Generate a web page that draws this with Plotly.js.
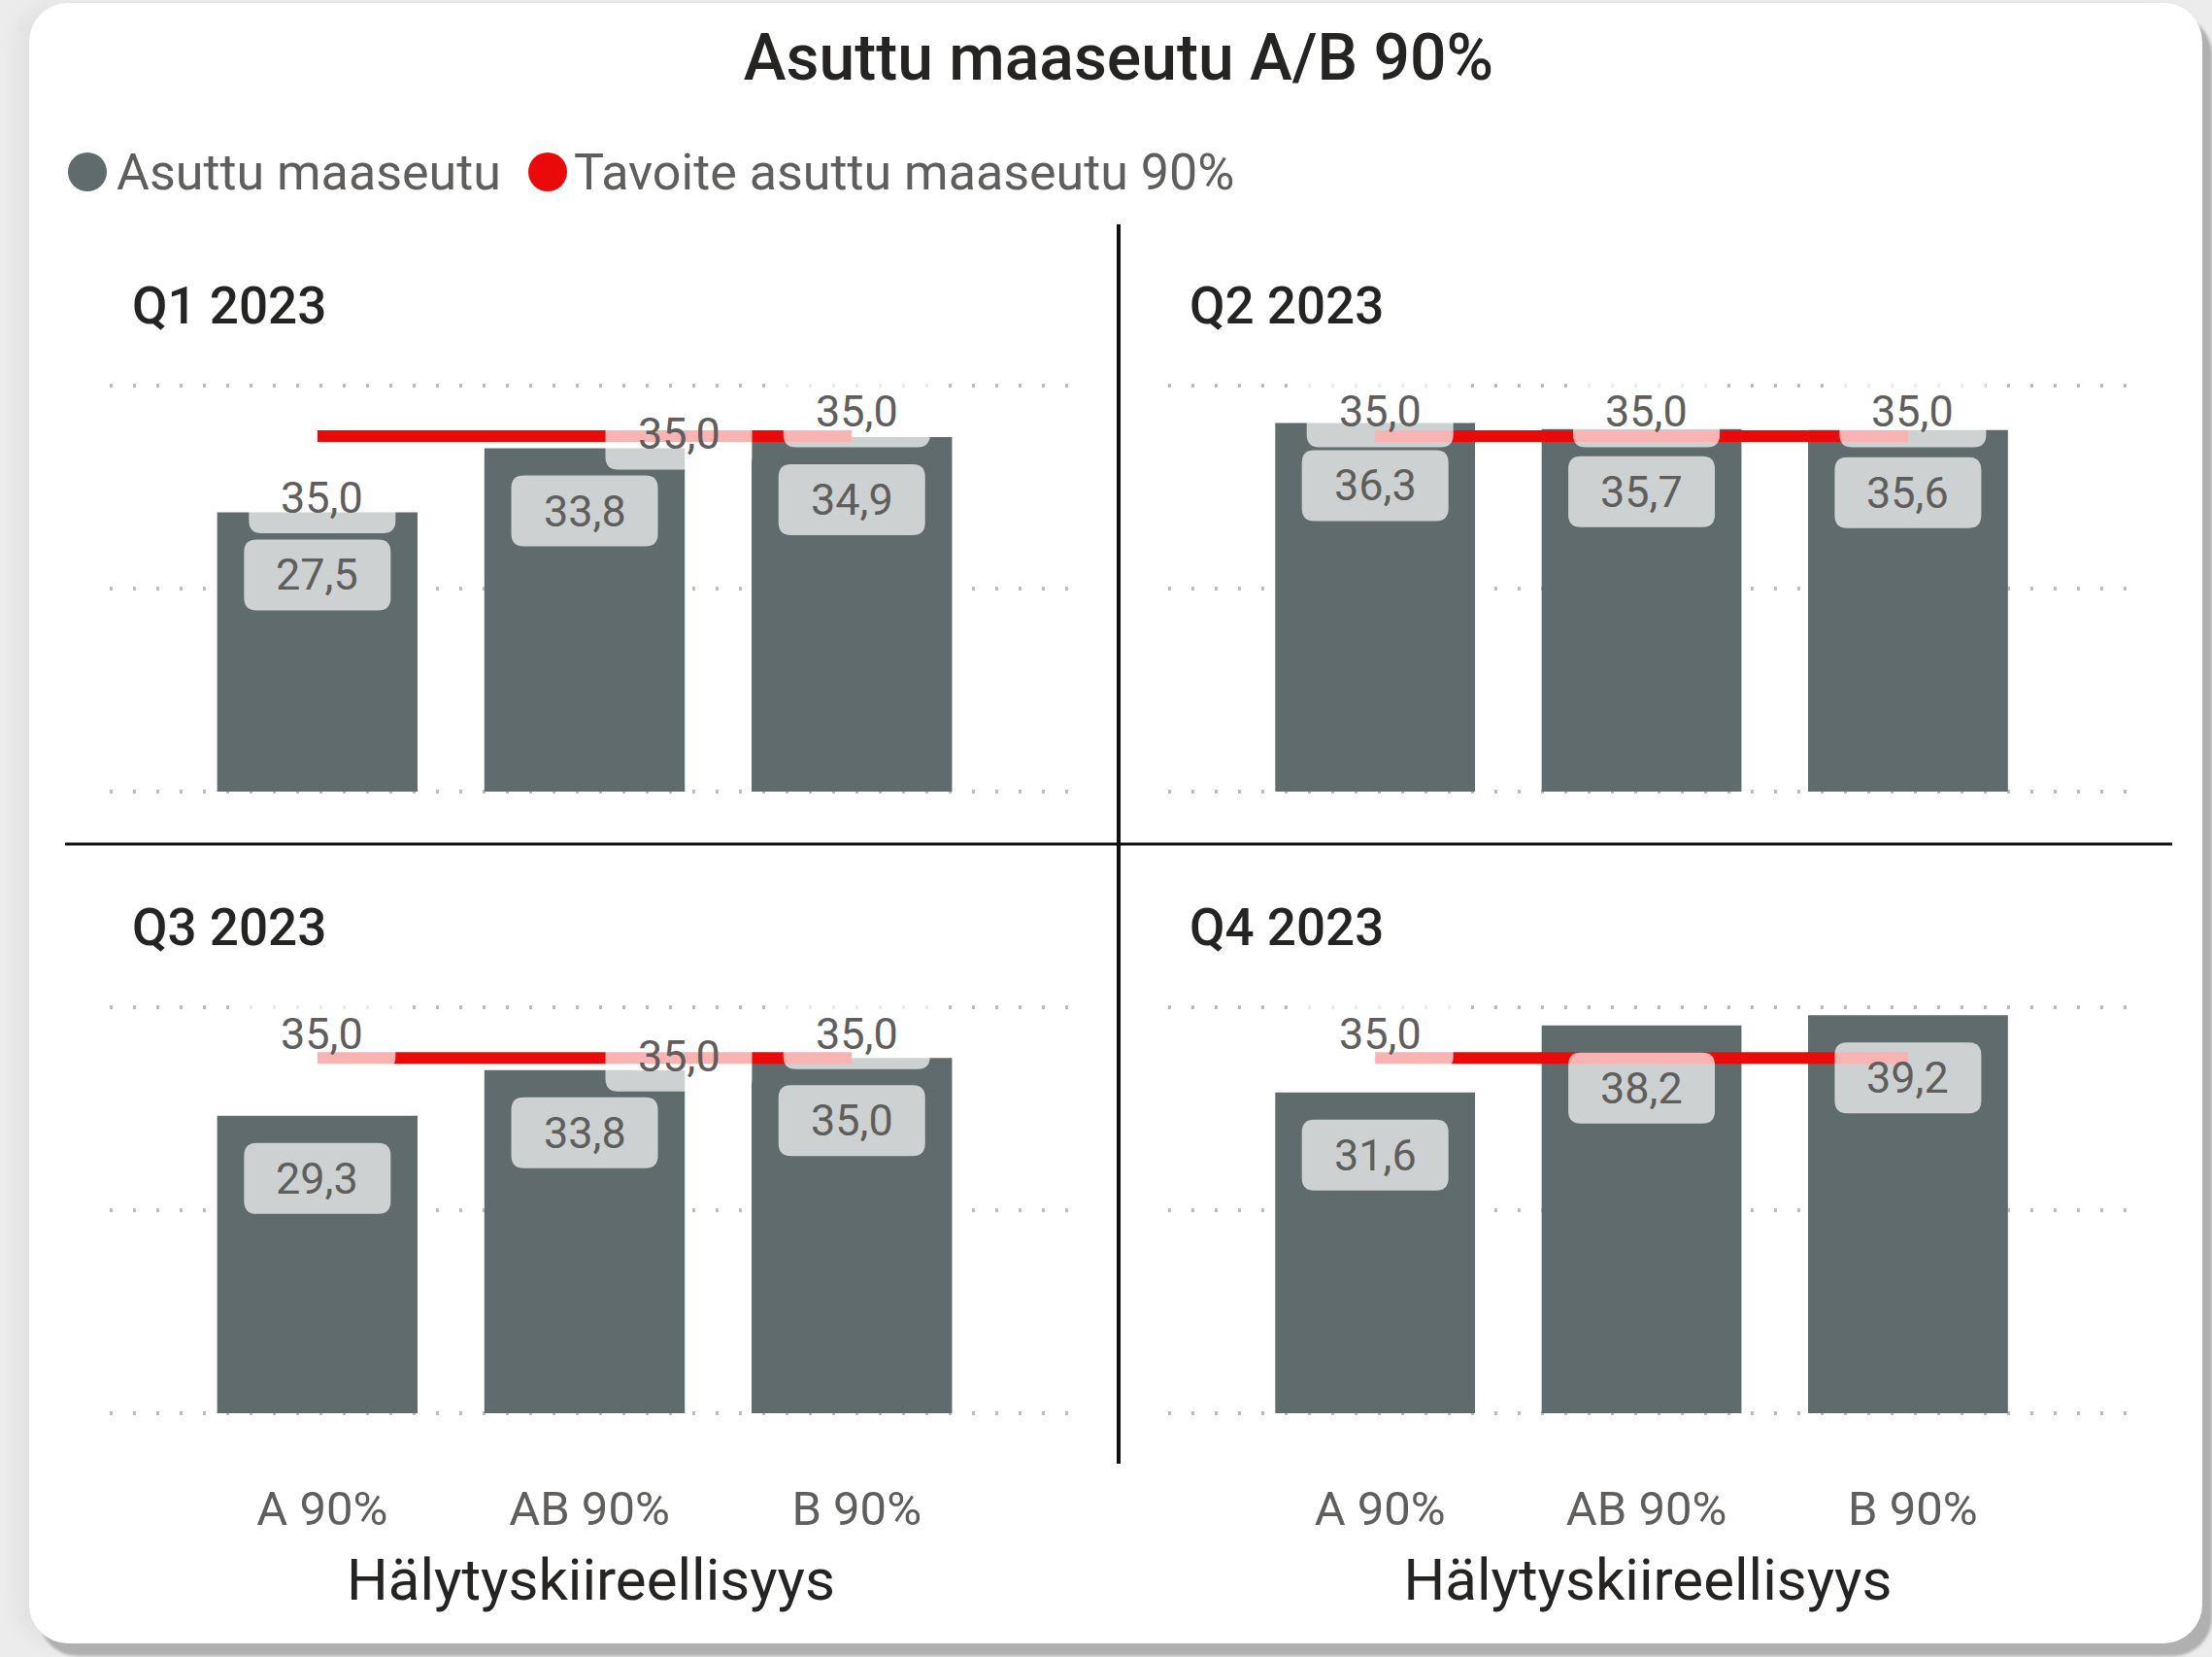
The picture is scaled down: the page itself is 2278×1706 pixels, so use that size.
<!DOCTYPE html>
<html>
<head>
<meta charset="utf-8">
<script src="https://cdn.plot.ly/plotly-3.0.1.min.js"></script>
<style>
  html, body { margin: 0; padding: 0; width: 2278px; height: 1706px; overflow: hidden; background: #ECECEC; }
  #card { position: absolute; left: 30px; top: 3px; width: 2238px; height: 1689px; background: #FFFFFF;
          border-radius: 40px; box-shadow: 10px 13px 3px #B0B0B0, -14px 0 18px #E2E2E2; }
  #chart { position: absolute; left: 0; top: 0; width: 2278px; height: 1706px; }
</style>
</head>
<body>
<div id="card"></div>
<div id="chart"></div>
<script>
// ---------------- data ----------------
const chartTitle = 'Asuttu maaseutu A/B 90%';
const seriesNames = ['Asuttu maaseutu', 'Tavoite asuttu maaseutu 90%'];
const categories = ['A 90%', 'AB 90%', 'B 90%'];
const quarters = ['Q1 2023', 'Q2 2023', 'Q3 2023', 'Q4 2023'];
const actualQ1 = [27.5, 33.8, 34.9];
const actualQ2 = [36.3, 35.7, 35.6];
const actualQ3 = [29.3, 33.8, 35.0];
const actualQ4 = [31.6, 38.2, 39.2];
const targetQ1 = [35.0, 35.0, 35.0];
const targetQ2 = [35.0, 35.0, 35.0];
const targetQ3 = [35.0, 35.0, 35.0];
const targetQ4 = [35.0, 35.0, 35.0];
const axisTitle = 'Hälytyskiireellisyys';

// ---------------- styling / layout config ----------------
const W = 2278, H = 1706;
const px = x => x / W;
const py = y => 1 - y / H;
const barColor = '#5F6B6D';
const lineColor = '#EB0A0A';
const labelColor = '#605E5C';
const darkText = '#252423';
const FONT = 'Roboto, "Open Sans", sans-serif';
const Y_MAX = 40, Y_PAD = 0.5;

// panel pixel boxes (x extents of plot area, y pixel of value 40 and value 0)
const panels = [
  { x: [113, 1104], y: [396.7, 815], title: [134, 315], bottom: false },
  { x: [1203, 2191], y: [396.7, 815], title: [1223, 315], bottom: false },
  { x: [113, 1104], y: [1037, 1455], title: [134, 954.5], bottom: true },
  { x: [1203, 2191], y: [1037, 1455], title: [1223, 954.5], bottom: true }
];
// how the target ("35,0") label of each bar is placed, mimicking the original collision handling
const targetLabelMode = [
  ['bar', 'line', 'above'],
  ['above', 'above', 'above'],
  ['above', 'line', 'above'],
  ['above', 'none', 'none']
];

const actuals = [actualQ1, actualQ2, actualQ3, actualQ4];
const targets = [targetQ1, targetQ2, targetQ3, targetQ4];
const fmt = v => v.toFixed(1).replace('.', ',');

const BOX_W = 151, BOX_H = 73, BOX_R = 13;
function roundBox(cx, cy, w, h, r) {
  const x0 = cx - w / 2, x1 = cx + w / 2, y0 = cy - h / 2, y1 = cy + h / 2;
  return `M${x0 + r},${y0} L${x1 - r},${y0} Q${x1},${y0} ${x1},${y0 + r} L${x1},${y1 - r} Q${x1},${y1} ${x1 - r},${y1} ` +
         `L${x0 + r},${y1} Q${x0},${y1} ${x0},${y1 - r} L${x0},${y0 + r} Q${x0},${y0} ${x0 + r},${y0} Z`;
}

const traces = [];
const layout = {
  width: W, height: H,
  margin: { l: 0, r: 0, t: 0, b: 0 },
  paper_bgcolor: 'rgba(0,0,0,0)',
  plot_bgcolor: 'rgba(0,0,0,0)',
  showlegend: false,
  title: {
    text: chartTitle,
    font: { family: FONT, size: 66, weight: 500, color: darkText },
    xref: 'container', yref: 'container',
    x: px(1152), xanchor: 'center',
    y: py(59), yanchor: 'middle'
  },
  annotations: [],
  shapes: []
};

const boxBg = 'rgba(255,255,255,0.69)';
const labelFont = { family: FONT, size: 45, color: labelColor };

panels.forEach((p, i) => {
  const sfx = i === 0 ? '' : String(i + 1);
  const xa = 'x' + sfx, ya = 'y' + sfx;
  traces.push({
    type: 'bar', x: categories, y: actuals[i], xaxis: xa, yaxis: ya,
    name: seriesNames[0], marker: { color: barColor }, width: 0.75, hoverinfo: 'skip'
  });
  traces.push({
    type: 'scatter', mode: 'lines', x: categories, y: targets[i], xaxis: xa, yaxis: ya,
    name: seriesNames[1], line: { color: lineColor, width: 12 }, hoverinfo: 'skip'
  });

  const unit = (p.y[1] - p.y[0]) / Y_MAX;   // px per value unit
  const topPx = p.y[0] - Y_PAD * unit, botPx = p.y[1] + Y_PAD * unit;

  layout['xaxis' + sfx] = {
    domain: [px(p.x[0]), px(p.x[1])],
    type: 'category',
    range: [-0.777, 2.824],
    anchor: ya,
    showgrid: false, zeroline: false, showline: false, ticks: '',
    showticklabels: p.bottom,
    tickfont: { family: FONT, size: 49, color: labelColor },
    ticklabelstandoff: 60,
    ticklabelshift: 5,
    automargin: false,
    title: p.bottom ? { text: axisTitle, font: { family: FONT, size: 60, color: darkText }, standoff: 23 } : { text: '' }
  };
  layout['yaxis' + sfx] = {
    domain: [py(botPx), py(topPx)],
    range: [-Y_PAD, Y_MAX + Y_PAD],
    anchor: xa,
    tick0: 0, dtick: 20,
    showgrid: true, gridcolor: '#BDBDBD', gridwidth: 4, griddash: '3px,21px',
    zeroline: false, showline: false, showticklabels: false, ticks: '',
    automargin: false
  };

  // panel title
  layout.annotations.push({
    xref: 'paper', yref: 'paper', x: px(p.title[0]), y: py(p.title[1]),
    xanchor: 'left', yanchor: 'middle', showarrow: false,
    text: quarters[i],
    font: { family: FONT, size: 53, weight: 500, color: darkText }
  });

  const addLabel = (j, yVal, dx, dy, text) => {
    layout.shapes.push({
      type: 'path', layer: 'above', xref: xa, yref: ya,
      xsizemode: 'pixel', ysizemode: 'pixel', xanchor: j, yanchor: yVal,
      path: roundBox(dx, dy, BOX_W, BOX_H, BOX_R),
      fillcolor: boxBg, line: { width: 0 }
    });
    layout.annotations.push({
      xref: xa, yref: ya, x: j, y: yVal, xanchor: 'center', yanchor: 'middle',
      showarrow: false, text: text, font: labelFont,
      xshift: dx, yshift: dy
    });
  };

  // target labels
  categories.forEach((c, j) => {
    const mode = targetLabelMode[i][j];
    if (mode === 'none') return;
    if (mode === 'above') addLabel(j, targets[i][j], 5, 25, fmt(targets[i][j]));
    if (mode === 'line') addLabel(j, targets[i][j], 97, 2, fmt(targets[i][j]));
    if (mode === 'bar') addLabel(j, actuals[i][j], 5, 15, fmt(targets[i][j]));
  });
  // bar value labels (box top 28 px below bar end)
  categories.forEach((c, j) => {
    addLabel(j, actuals[i][j], 0, -28 - BOX_H / 2, fmt(actuals[i][j]));
  });
});

// legend (drawn manually with large round markers)
const legendItems = [
  { cx: 90, tx: 118, color: barColor, text: seriesNames[0] },
  { cx: 564, tx: 589, color: lineColor, text: seriesNames[1] }
];
legendItems.forEach(it => {
  layout.shapes.push({
    type: 'circle', xref: 'paper', yref: 'paper',
    xsizemode: 'pixel', ysizemode: 'pixel',
    xanchor: px(it.cx), yanchor: py(177),
    x0: -20, x1: 20, y0: -20, y1: 20,
    fillcolor: it.color, line: { width: 0 }
  });
  layout.annotations.push({
    xref: 'paper', yref: 'paper', x: px(it.tx), y: py(177),
    xanchor: 'left', yanchor: 'middle', showarrow: false,
    text: it.text, font: { family: FONT, size: 52, color: labelColor }
  });
});

// panel dividers
layout.shapes.push({
  type: 'line', xref: 'paper', yref: 'paper',
  x0: px(1152), x1: px(1152), y0: py(231), y1: py(1507),
  line: { color: '#111111', width: 4 }
});
layout.shapes.push({
  type: 'line', xref: 'paper', yref: 'paper',
  x0: px(67), x1: px(2237), y0: py(869), y1: py(869),
  line: { color: '#111111', width: 3 }
});

Plotly.newPlot('chart', traces, layout, { displayModeBar: false, staticPlot: true });
</script>
</body>
</html>
